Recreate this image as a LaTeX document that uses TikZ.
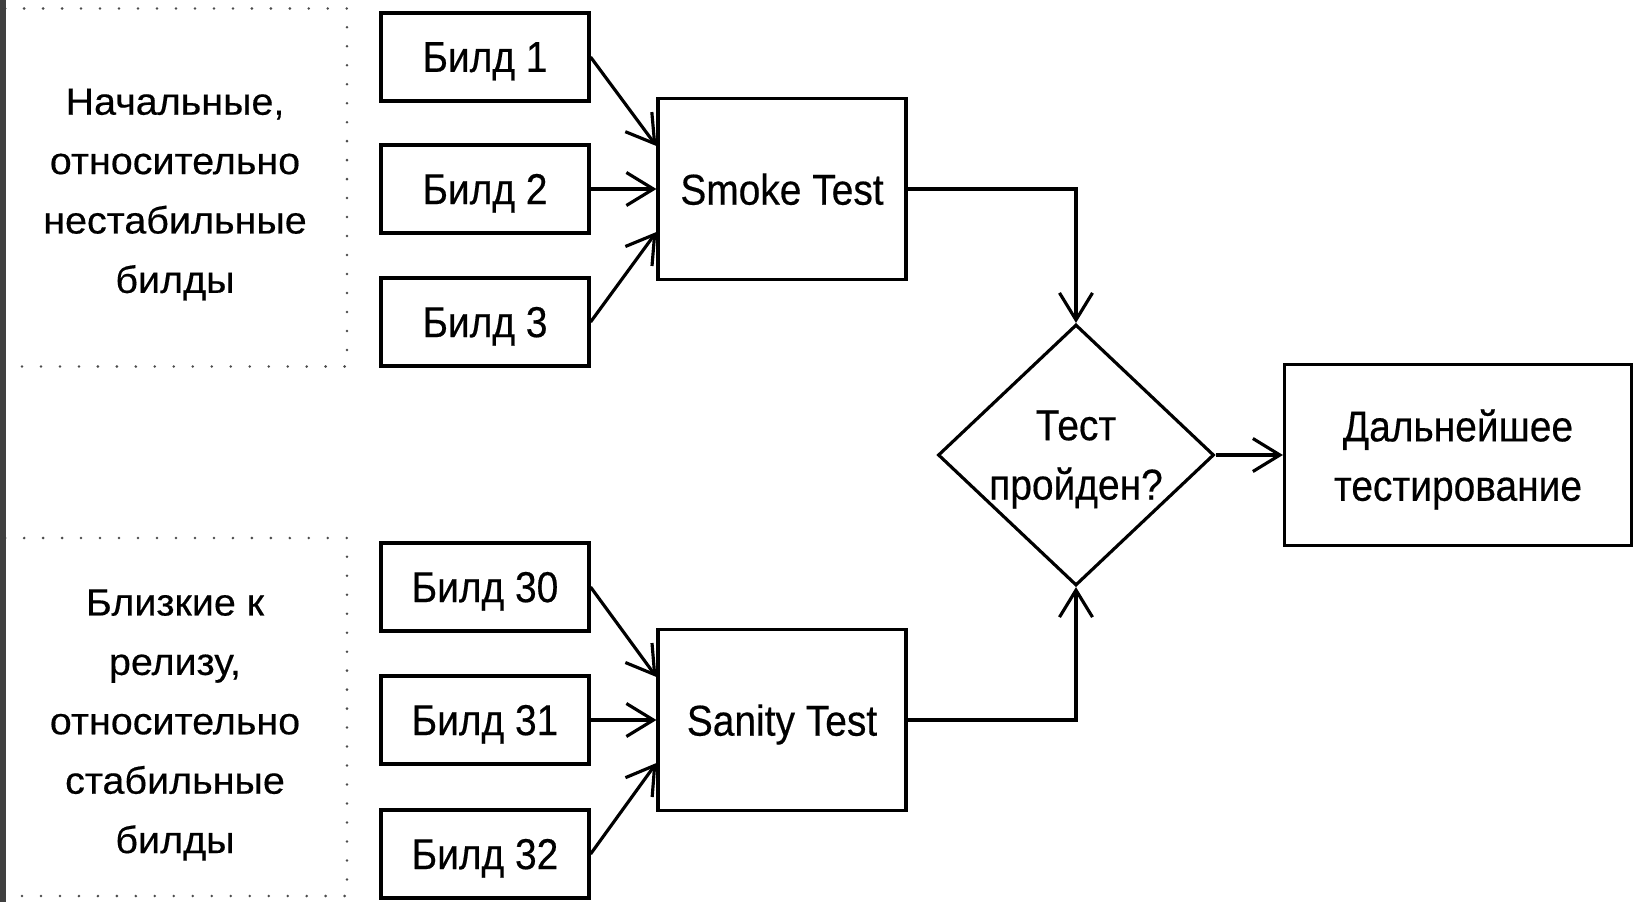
\documentclass[tikz,border=0pt]{standalone}
\usepackage{fontspec}
\setmainfont{Liberation Sans}[FakeStretch=0.9,FakeBold=0.4]
\newfontfamily\sidefont{Liberation Sans}[FakeStretch=1.04,FakeBold=0.4]
\usetikzlibrary{shapes.geometric,arrows.meta,positioning}
\tikzset{
  build/.style={rectangle, draw, line width=0.9pt, minimum width=2.08cm,
                minimum height=0.88cm, inner sep=0pt, text depth=0pt,
                font=\fontsize{12.3}{16.9}\selectfont},
  testbox/.style={build, minimum width=2.48cm, minimum height=1.81cm},
  decision/.style={diamond, draw, line width=0.9pt, aspect=1.06,
                   minimum width=2.76cm, minimum height=2.61cm, inner sep=0pt,
                   align=center, text depth=0pt,
                   font=\fontsize{12.3}{16.9}\selectfont},
  result/.style={rectangle, draw, line width=0.9pt, minimum width=3.47cm,
                 minimum height=1.81cm, inner sep=0pt, align=center,
                 text depth=0pt, font=\fontsize{12.3}{16.9}\selectfont},
  group/.style={rectangle, draw=black!70, line width=0.8pt, line cap=round,
                dash pattern=on 0pt off 5.4pt, minimum width=3.44cm,
                minimum height=3.58cm},
  grouptext/.style={align=center, inner sep=0pt,
                    font=\sidefont\fontsize{10.8}{16.9}\selectfont},
  arr/.style={-{Straight Barb[length=2.7mm,width=3.3mm]}, line width=0.9pt},
}

\begin{document}
\begin{tikzpicture}
  \useasboundingbox (0,0) rectangle (16.33,9.02);
  % Build groups
  \node[group] (early) at (1.75,7.145) {};
  \node[group] (late) at (1.75,1.85) {};
  \node[grouptext] (earlytxt) at ([yshift=-0.07cm]early.center)
    {Начальные,\\относительно\\нестабильные\\билды};
  \node[grouptext] (latetxt) at ([yshift=-0.08cm]late.center)
    {Близкие к\\релизу,\\относительно\\стабильные\\билды};
  \fill[black!75] (0,0) rectangle (0.06,9.02);
  % Builds
  \node[build] (b1) at (4.85,8.45) {Билд 1};
  \node[build] (b2) at (4.85,7.13) {Билд 2};
  \node[build] (b3) at (4.85,5.80) {Билд 3};
  \node[build] (b30) at (4.85,3.15) {Билд 30};
  \node[build] (b31) at (4.85,1.82) {Билд 31};
  \node[build] (b32) at (4.85,0.48) {Билд 32};
  % Tests
  \node[testbox] (smoke) at (7.82,7.13) {Smoke Test};
  \node[testbox] (sanity) at (7.82,1.82) {Sanity Test};
  \node[decision] (passed) at (10.76,4.47) {Тест\\пройден?};
  \node[result] (further) at (14.58,4.47) {Дальнейшее\\тестирование};
  % Connectors
  \draw[arr] (b1.east) -- ([yshift=0.43cm]smoke.west);
  \draw[arr] (b2.east) -- (smoke.west);
  \draw[arr] (b3.east) -- ([yshift=-0.43cm]smoke.west);
  \draw[arr] (b30.east) -- ([yshift=0.43cm]sanity.west);
  \draw[arr] (b31.east) -- (sanity.west);
  \draw[arr] (b32.east) -- ([yshift=-0.43cm]sanity.west);
  \draw[arr] (smoke.east) -| (passed.north);
  \draw[arr] (sanity.east) -| (passed.south);
  \draw[arr] (passed.east) -- (further.west);
\end{tikzpicture}
\end{document}
